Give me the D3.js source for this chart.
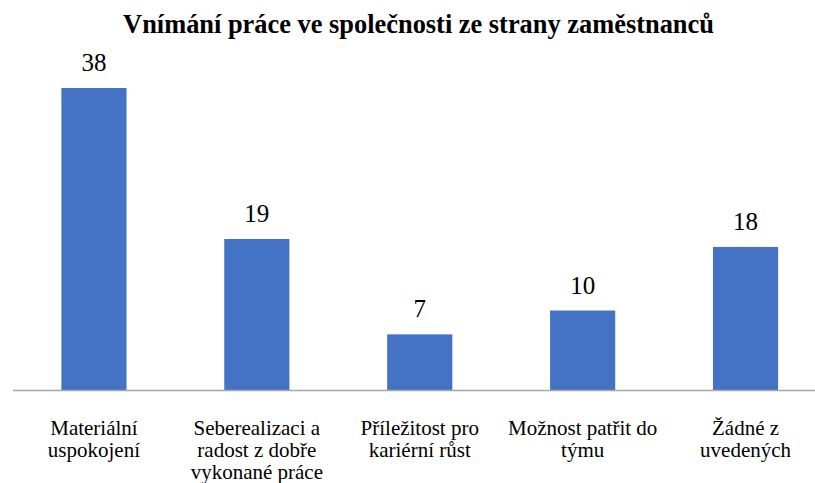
<!DOCTYPE html>
<html><head><meta charset="utf-8">
<script src="https://cdn.jsdelivr.net/npm/d3@7"></script>
<style>body{margin:0;background:#fff}svg{display:block}text{font-family:"Liberation Serif","Times New Roman",Times,"DejaVu Serif",serif}</style>
</head><body>
<svg id="chart" width="815" height="483"></svg>
<script>
const title = "Vnímání práce ve společnosti ze strany zaměstnanců";
const categories = ["Materiální uspokojení", "Seberealizaci a radost z dobře vykonané práce", "Příležitost pro kariérní růst", "Možnost patřit do týmu", "Žádné z uvedených"];
const categoryLines = [["Materiální", "uspokojení"], ["Seberealizaci a", "radost z dobře", "vykonané práce"], ["Příležitost pro", "kariérní růst"], ["Možnost patřit do", "týmu"], ["Žádné z", "uvedených"]];
const values = [38, 19, 7, 10, 18];

const svg = d3.select("#chart");
const baseY = 390;

const x = d3.scaleBand().domain(categories).range([12.5, 827]).paddingInner(0.6).paddingOuter(0.3);
const y = d3.scaleLinear().domain([0, 38]).range([baseY, 88]);

svg.append("text").attr("x", 418.5).attr("y", 33.3).attr("text-anchor", "middle")
  .attr("font-weight", "bold").attr("font-size", 26.4).attr("fill", "#000").text(title);

svg.selectAll("rect.bar").data(values).join("rect").attr("class", "bar")
  .attr("x", (d, i) => x(categories[i])).attr("width", x.bandwidth())
  .attr("y", d => y(d)).attr("height", d => baseY - y(d)).attr("fill", "#4472C4");

svg.selectAll("text.val").data(values).join("text").attr("class", "val")
  .attr("x", (d, i) => x(categories[i]) + x.bandwidth() / 2).attr("y", d => y(d) - 17)
  .attr("text-anchor", "middle").attr("font-size", 25).attr("fill", "#000").text(d => d);

const axis = d3.axisBottom(x).tickSize(0).tickSizeOuter(0).tickFormat("");
const g = svg.append("g").attr("transform", `translate(0,${baseY})`).call(axis);
g.select(".domain").attr("stroke", "#a6a6a6").attr("stroke-width", 1.3);

categories.forEach((c, i) => {
  const t = svg.append("text").attr("text-anchor", "middle")
    .attr("font-size", 21).attr("fill", "#000");
  categoryLines[i].forEach((ln, j) => {
    t.append("tspan").attr("x", x(c) + x.bandwidth() / 2).attr("y", 434.5 + j * 22.4).text(ln);
  });
});
</script>
</body></html>
